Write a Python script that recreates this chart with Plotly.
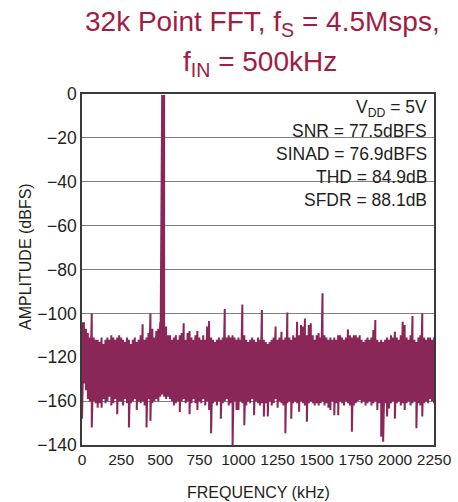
import plotly.graph_objects as go

# ---- data (display bins, 12.5 kHz apart) ----
bin_step_khz = 12.5
freq_khz = [bin_step_khz * k for k in range(181)]

# upper (peak) value of each display bin, dBFS
amp_top = [
    -104, -104, -107, -109, -111, -100, -111, -112, -112, -113, -111, -114, -112, -111, -112, -110, -111, -112, -111, -110,
    -111, -112, -113, -111, -112, -114, -112, -111, -113, -112, -110, -105, -112, -111, -109, -100, -107, -111, -108, -107,
    -104, -0.5, -0.5, -106, -110, -110, -112, -111, -110, -112, -110, -109, -104.5, -112, -109, -108, -111, -112, -110, -108,
    -111, -112, -110, -112, -106, -103.5, -111, -112, -113, -112, -111, -112, -111, -98, -111, -110, -111, -110, -111, -112,
    -111, -112, -96, -110, -112, -113, -112, -111, -112, -113, -111, -112, -98.5, -112, -113, -114, -113, -112, -111, -106,
    -112, -111, -108.4, -112, -111, -99.6, -111, -112, -110, -111, -103.8, -110, -105.3, -106, -102.3, -110, -105.3, -104.5, -110, -112,
    -110, -109, -111, -90.8, -110, -111, -112, -111, -112, -111, -112, -110, -110, -111, -112, -111, -107.3, -110, -111, -110,
    -110, -111, -110, -112, -113, -112, -111, -112, -111, -107.6, -103, -112, -113, -112, -113, -112, -111, -112, -110, -111,
    -108.4, -111, -112, -110, -103.8, -105.3, -111, -112, -110, -101.2, -112, -113, -111, -110, -100, -111, -112, -111, -111, -112, -111,
]

# lower (trough) value of each display bin, dBFS
amp_bottom = [
    -148, -132, -135, -139, -140, -152, -140, -141, -143, -141, -143, -139, -141, -140, -138, -142, -141, -139, -146, -140,
    -140, -142, -139, -141, -152, -141, -140, -139, -144, -140, -141, -140, -142, -152, -139, -149, -141, -140, -139, -140,
    -138, -137, -138, -139, -138, -139, -140, -142, -141, -140, -145, -140, -139, -141, -140, -146, -141, -139, -141, -144,
    -140, -141, -139, -142, -140, -144, -154.7, -141, -140, -142, -140, -148, -141, -140, -139, -142, -141, -160, -140, -144,
    -144, -140, -141, -151, -142, -140, -141, -139, -146.4, -140, -141, -142, -141, -147, -141, -147, -140, -142, -141, -139,
    -143, -140, -141, -142, -154.7, -141, -140, -148, -141, -140, -141, -144.8, -140, -141, -142, -149.4, -141, -140, -141, -142,
    -141, -142, -141, -140, -142, -141, -143, -144, -140, -146.4, -141, -146.4, -140, -141, -142, -140, -141, -142, -154, -142,
    -141, -140, -139.5, -141, -140, -142, -141, -140, -142, -141, -140, -144, -141, -156.2, -158.5, -141, -147, -143.3, -141, -140,
    -148, -141, -140, -142, -141, -144, -141, -140, -142, -141, -140, -152.4, -141, -142, -147, -141, -140, -141, -139, -140, -141,
]

x_ticks = [0, 250, 500, 750, 1000, 1250, 1500, 1750, 2000, 2250]
y_ticks = [0, -20, -40, -60, -80, -100, -120, -140, -160]
y_ticktext = ["0", "−20", "−40", "−60", "−80", "−100", "−120", "−160", "−140"]

stats_lines = [
    "V<sub>DD</sub> = 5V",
    "SNR = 77.5dBFS",
    "SINAD = 76.9dBFS",
    "THD = 84.9dB",
    "SFDR = 88.1dB",
]

# ---- build min/max trace (vertical stroke per display bin) ----
xs, ys = [], []
for f, hi, lo in zip(freq_khz, amp_top, amp_bottom):
    xs += [f, f]
    ys += [hi, lo]

FONT = "Liberation Sans, Arial, sans-serif"
LINE_COLOR = "#8A2658"
TITLE_COLOR = "#A01C43"
TEXT_COLOR = "#231F20"

fig = go.Figure()
fig.add_trace(go.Scatter(x=xs, y=ys, mode="lines",
                         line=dict(color=LINE_COLOR, width=2),
                         showlegend=False, hoverinfo="skip"))

W, H = 458, 502
L, R, T, B = 82, 24, 94, 57
pw, ph = W - L - R, H - T - B

def px(xp):
    return (xp - L) / pw

def py(yp):
    return (H - B - yp) / ph

fig.update_layout(
    width=W, height=H,
    margin=dict(l=L, r=R, t=T, b=B, pad=0, autoexpand=False),
    paper_bgcolor="white", plot_bgcolor="white",
    font=dict(family=FONT, color=TEXT_COLOR, size=16),
    showlegend=False,
)
fig.update_xaxes(range=[0, 2250], tickvals=x_ticks, showgrid=False, zeroline=False,
                 showline=True, linecolor="#3a3a3a", linewidth=1.5, mirror=True,
                 ticks="", tickangle=0, automargin=False,
                 tickfont=dict(size=15.5, family=FONT, color=TEXT_COLOR))
fig.update_yaxes(range=[-160, 0], tickvals=y_ticks, ticktext=y_ticktext,
                 showgrid=True, gridcolor="#808080", gridwidth=1, zeroline=False,
                 showline=True, linecolor="#3a3a3a", linewidth=1.5, mirror=True,
                 ticks="", automargin=False,
                 tickfont=dict(size=17.5, family=FONT, color=TEXT_COLOR))

# white box behind the stats text (covers the gridlines)
fig.add_shape(type="rect", xref="paper", yref="paper",
              x0=px(282), x1=px(430), y0=py(208), y1=py(97),
              fillcolor="white", line=dict(width=0), layer="between")

centers = [108, 131, 154, 177, 200]
for txt, cy in zip(stats_lines, centers):
    fig.add_annotation(text=txt, xref="paper", yref="paper", x=px(429), y=py(cy),
                       xanchor="right", yanchor="middle", showarrow=False,
                       font=dict(size=17.5, family=FONT, color=TEXT_COLOR))

# title (two lines)
fig.add_annotation(text="32k Point FFT, f<sub>S</sub> = 4.5Msps,", xref="paper", yref="paper",
                   x=px(262), y=py(24), xanchor="center", yanchor="middle", showarrow=False,
                   font=dict(size=28, family=FONT, color=TITLE_COLOR))
fig.add_annotation(text="f<sub>IN</sub> = 500kHz", xref="paper", yref="paper",
                   x=px(260), y=py(63), xanchor="center", yanchor="middle", showarrow=False,
                   font=dict(size=28, family=FONT, color=TITLE_COLOR))

# axis titles
fig.add_annotation(text="FREQUENCY (kHz)", xref="paper", yref="paper",
                   x=px(258), y=py(492), xanchor="center", yanchor="middle", showarrow=False,
                   font=dict(size=16, family=FONT, color=TEXT_COLOR))
fig.add_annotation(text="AMPLITUDE (dBFS)", xref="paper", yref="paper",
                   x=px(25), y=py(257), xanchor="center", yanchor="middle", showarrow=False,
                   textangle=-90, font=dict(size=16, family=FONT, color=TEXT_COLOR))

fig.write_html("out.html",
               config={"displayModeBar": False},
               post_script="document.body.style.margin='0';document.body.style.padding='0';")
